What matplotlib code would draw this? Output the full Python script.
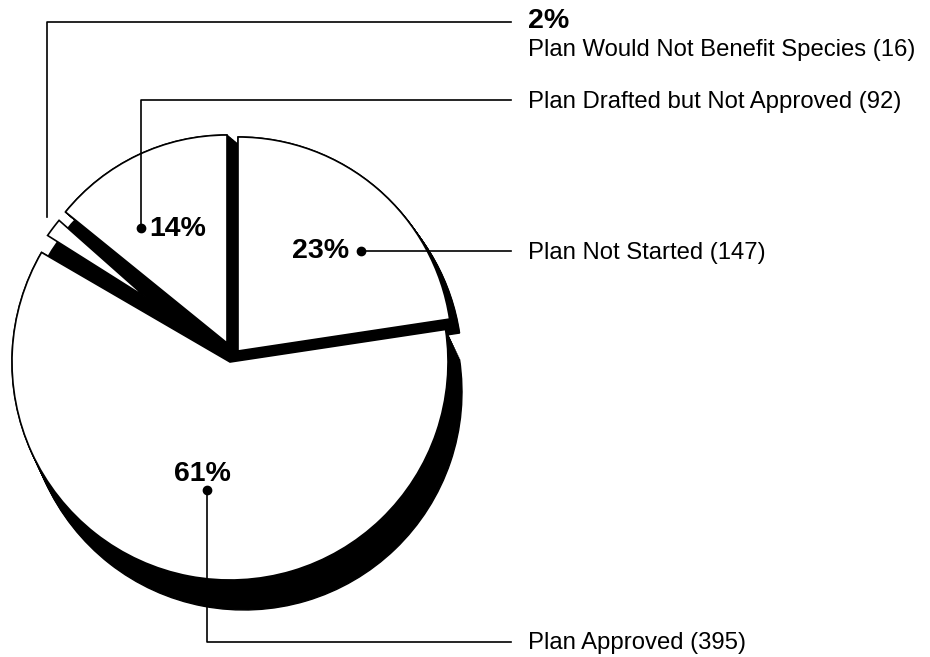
import numpy as np
import matplotlib
matplotlib.use("Agg")
import matplotlib.pyplot as plt
from matplotlib.patches import Wedge, Polygon

# Data: recovery plan status (counts), clockwise from 12 o'clock
categories = ["Plan Not Started", "Plan Approved",
              "Plan Would Not Benefit Species", "Plan Drafted but Not Approved"]
counts = [147, 395, 16, 92]
pct_labels = ["23%", "61%", "2%", "14%"]

W, H = 930, 657
plt.rcParams['font.family'] = ['Liberation Sans', 'DejaVu Sans']

fig = plt.figure(figsize=(9.3, 6.57), dpi=100)
ax = fig.add_axes([0, 0, 1, 1])
ax.set_xlim(0, W)
ax.set_ylim(0, H)
ax.axis('off')

def Y(y):
    return H - y

# wedge angles (counterclockwise form), going clockwise from 90 deg
fracs = np.array(counts) / sum(counts)
ends = 90 - np.concatenate([[0], np.cumsum(fracs)[:-1]]) * 360
starts = ends - fracs * 360

cx, cy = 230, Y(358)
# per-wedge explode (dx, dy) and shadow depth
explode = [(8, 7), (0, -4), (0, 0), (-3, 15)]
shadow = [(10, -14), (14, -30), (0, 0), (12, -10)]
radii = [214, 218, 218, 208]

# shadows, extruded along the offset
for i in [1, 0, 3]:
    ex, ey = explode[i]
    sx, sy = shadow[i]
    for t in np.linspace(0, 1, 16):
        ax.add_patch(Wedge((cx + ex + t * sx, cy + ey + t * sy), radii[i],
                           starts[i], ends[i],
                           facecolor='black', edgecolor='black', lw=1))

# dark fill behind the three upper slices
ax.add_patch(Wedge((cx + explode[1][0], cy + explode[1][1]), 211,
                   ends[1] - 360, starts[1] + 0.3,
                   facecolor='black', edgecolor='black', lw=0))

# white wedges
for i in [1, 3, 0]:
    ex, ey = explode[i]
    ax.add_patch(Wedge((cx + ex, cy + ey), radii[i], starts[i], ends[i],
                       facecolor='white', edgecolor='black', lw=1.2))

# 2% slice: only a thin outer sliver shows
ox, oy = cx + explode[1][0], cy + explode[1][1]
a_tip = np.deg2rad(starts[2] + 1.5)
tip = (ox + 105 * np.cos(a_tip), oy + 105 * np.sin(a_tip))
arc = np.deg2rad(np.linspace(starts[2] + 4.3, starts[2] - 0.6, 8))
pts = [tip] + [(ox + 222 * np.cos(a), oy + 222 * np.sin(a)) for a in arc]
ax.add_patch(Polygon(pts, closed=True, facecolor='white', edgecolor='black', lw=1.2))

lab_fs = 17.2
pct_fs = 20.5
lx = 528
line_end = 511
lw = 1.2

# 2%
ax.plot([47, 47, line_end], [Y(217), Y(22), Y(22)], color='black', lw=lw)
ax.text(lx, Y(21), pct_labels[2], fontsize=pct_fs, fontweight='bold', va='center', ha='left')
ax.text(lx, Y(50), f"{categories[2]} ({counts[2]})", fontsize=lab_fs, va='center', ha='left')

# 14%
ax.plot([141, 141, line_end], [Y(228), Y(100), Y(100)], color='black', lw=lw)
ax.plot(141, Y(228), 'o', color='black', ms=6)
ax.text(149, Y(229), pct_labels[3], fontsize=pct_fs, fontweight='bold', va='center', ha='left')
ax.text(lx, Y(102), f"{categories[3]} ({counts[3]})", fontsize=lab_fs, va='center', ha='left')

# 23%
ax.plot([361, line_end], [Y(251), Y(251)], color='black', lw=lw)
ax.plot(361, Y(251), 'o', color='black', ms=6)
ax.text(349, Y(251), pct_labels[0], fontsize=pct_fs, fontweight='bold', va='center', ha='right')
ax.text(lx, Y(253), f"{categories[0]} ({counts[0]})", fontsize=lab_fs, va='center', ha='left')

# 61%
ax.plot([207, 207, line_end], [Y(490), Y(642), Y(642)], color='black', lw=lw)
ax.plot(207, Y(490), 'o', color='black', ms=6)
ax.text(202, Y(474), pct_labels[1], fontsize=pct_fs, fontweight='bold', va='center', ha='center')
ax.text(lx, Y(643), f"{categories[1]} ({counts[1]})", fontsize=lab_fs, va='center', ha='left')

fig.savefig('out.png', dpi=100, facecolor='white')
